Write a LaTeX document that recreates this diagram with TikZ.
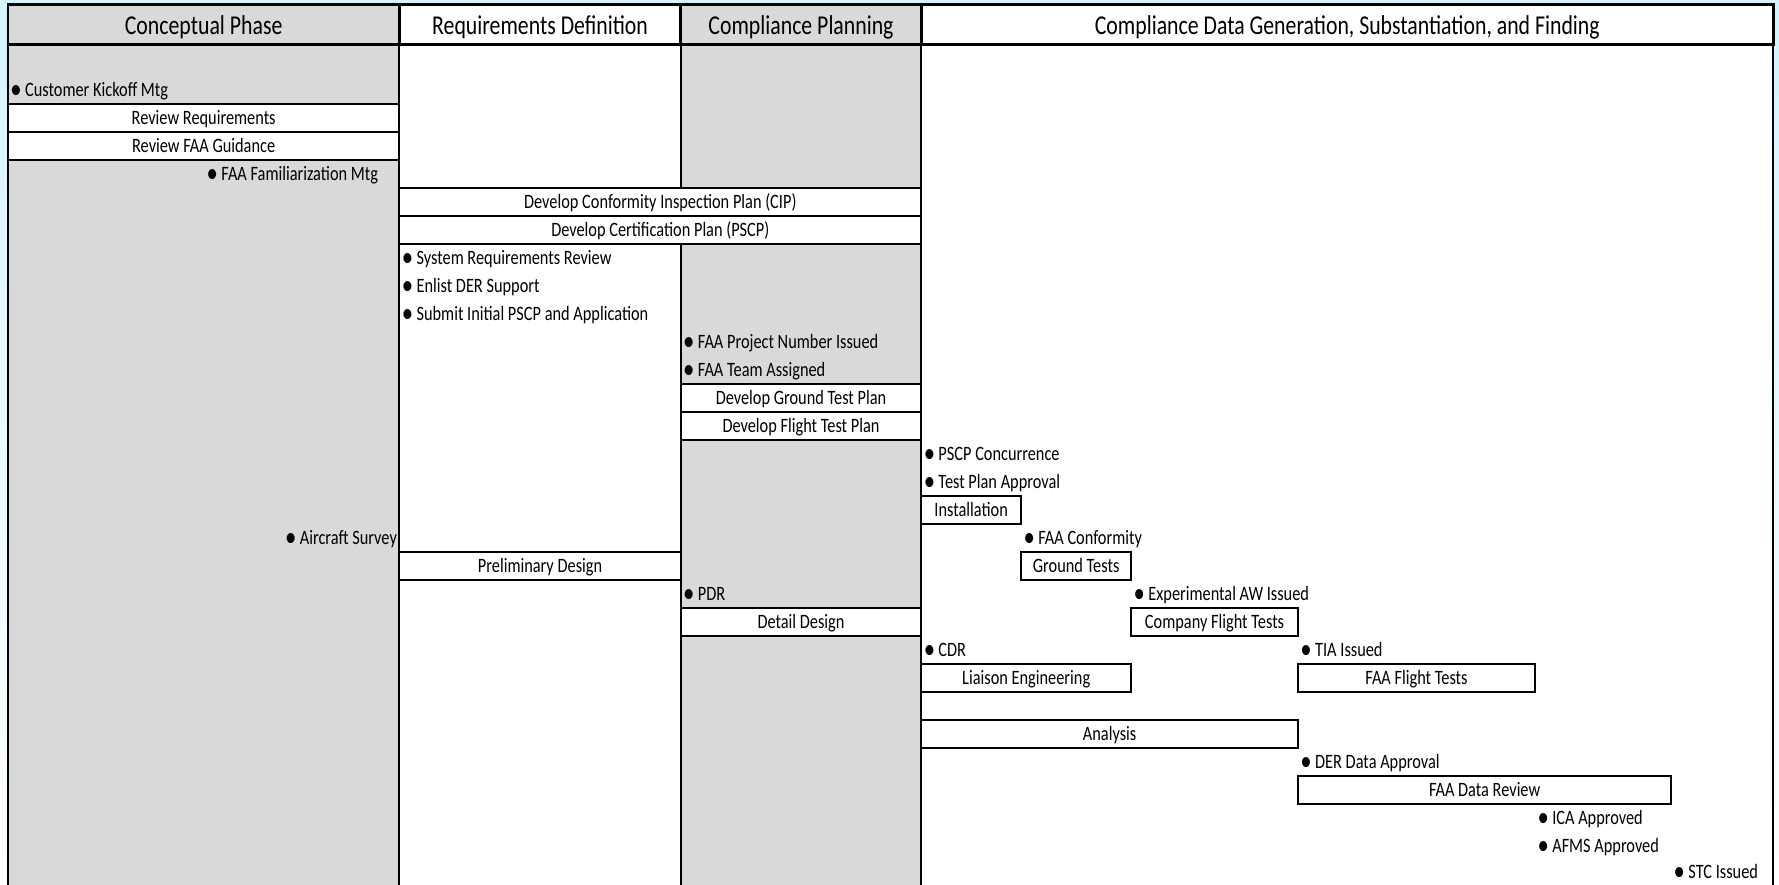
\documentclass[tikz,border=0pt]{standalone}
\usepackage{fontspec}
\setmainfont{Carlito}[FakeStretch=0.8]
\usepackage{tikz}
\definecolor{phasegray}{RGB}{217,217,217}
\definecolor{sky}{RGB}{212,244,254}
\newcommand{\mbul}{\raisebox{-2.2pt}{\fontsize{25}{25}\selectfont\textbullet}\hspace{3pt}}

\begin{document}
\begin{tikzpicture}[x=1pt,y=-24.68pt,
  head/.style={draw,line width=2.4pt,minimum height=35pt,inner sep=0pt,text height=17pt,text depth=0pt,font=\fontsize{24}{26}\selectfont},
  task/.style={draw,fill=white,line width=1.6pt,minimum height=24.68pt,inner sep=0pt,text height=13pt,text depth=1pt,font=\fontsize{18}{19}\selectfont},
  mile/.style={anchor=west,inner ysep=0pt,inner xsep=2pt,text height=13pt,text depth=1pt,font=\fontsize{18}{19}\selectfont}]

\useasboundingbox (0,-3.201) rectangle (1568,28.404);
\shade[top color=sky,bottom color=white] (0,-3.201) rectangle (1568,28.404);

% phase columns
\fill[white] (7,-1.621) rectangle (1563,28.404);
\fill[phasegray] (7,-1.621) rectangle (352,28.404);
\fill[phasegray] (600,-1.621) rectangle (812,28.404);
\foreach \x in {7,352,600,812,1563}
  \draw[line width=1.6pt] (\x,-1.621) -- (\x,28.404);

\node[head,fill=phasegray,minimum width=345pt] (concept)     at (179.5,-2.33) {Conceptual Phase};
\node[head,fill=white,minimum width=248pt]     (requirement) at (476,-2.33)   {Requirements Definition};
\node[head,fill=phasegray,minimum width=212pt] (planning)    at (706,-2.33)   {Compliance Planning};
\node[head,fill=white,minimum width=751pt]     (finding)     at (1187.5,-2.33) {Compliance Data Generation, Substantiation, and Finding};

\node[task,minimum width=345pt] (reviewreq)     at (179.5,1)  {Review Requirements};
\node[task,minimum width=345pt] (reviewfaa)     at (179.5,2)  {Review FAA Guidance};
\node[task,minimum width=460pt] (cip)           at (582,4)    {Develop Conformity Inspection Plan (CIP)};
\node[task,minimum width=460pt] (pscp)          at (582,5)    {Develop Certification Plan (PSCP)};
\node[task,minimum width=212pt] (groundplan)    at (706,11)   {Develop Ground Test Plan};
\node[task,minimum width=212pt] (flightplan)    at (706,12)   {Develop Flight Test Plan};
\node[task,minimum width=88pt]  (install)       at (856,15)   {Installation};
\node[task,minimum width=248pt] (prelim)        at (476,17)   {Preliminary Design};
\node[task,minimum width=97pt]  (groundtest)    at (948.5,17) {Ground Tests};
\node[task,minimum width=212pt] (detail)        at (706,19)   {Detail Design};
\node[task,minimum width=147pt] (companyflight) at (1070.5,19) {Company Flight Tests};
\node[task,minimum width=185pt] (liaison)       at (904.5,21) {Liaison Engineering};
\node[task,minimum width=209pt] (faaflight)     at (1248.5,21) {FAA Flight Tests};
\node[task,minimum width=332pt] (analysis)      at (978,23)   {Analysis};
\node[task,minimum width=329pt] (datareview)    at (1308.5,25) {FAA Data Review};

\node[mile] (kickoff)      at (7,0)     {\mbul Customer Kickoff Mtg};
\node[mile] (familiar)     at (180,3)   {\mbul FAA Familiarization Mtg};
\node[mile] (sysreview)    at (352,6)   {\mbul System Requirements Review};
\node[mile] (enlist)       at (352,7)   {\mbul Enlist DER Support};
\node[mile] (submit)       at (352,8)   {\mbul Submit Initial PSCP and Application};
\node[mile] (projnumber)   at (600,9)   {\mbul FAA Project Number Issued};
\node[mile] (team)         at (600,10)  {\mbul FAA Team Assigned};
\node[mile] (concur)       at (812,13)  {\mbul PSCP Concurrence};
\node[mile] (approval)     at (812,14)  {\mbul Test Plan Approval};
\node[mile,anchor=east] (survey) at (352,16) {\mbul Aircraft Survey};
\node[mile] (conformity)   at (900,16)  {\mbul FAA Conformity};
\node[mile] (pdr)          at (600,18)  {\mbul PDR};
\node[mile] (experimental) at (997,18)  {\mbul Experimental AW Issued};
\node[mile] (cdr)          at (812,20)  {\mbul CDR};
\node[mile] (tia)          at (1144,20) {\mbul TIA Issued};
\node[mile] (derdata)      at (1144,24) {\mbul DER Data Approval};
\node[mile] (ica)          at (1353,26) {\mbul ICA Approved};
\node[mile] (afms)         at (1353,27) {\mbul AFMS Approved};
\node[mile] (stc)          at (1473,27.92) {\mbul STC Issued};
\end{tikzpicture}
\end{document}
